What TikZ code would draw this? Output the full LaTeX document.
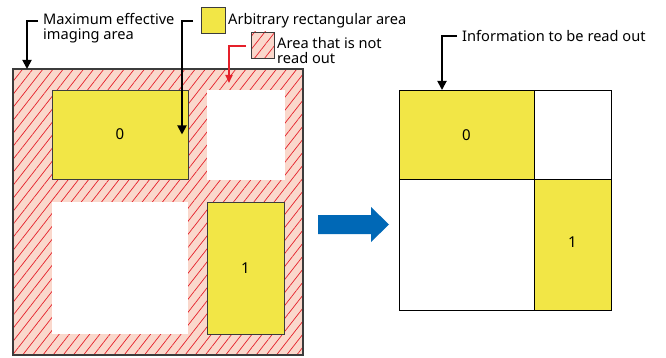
\documentclass[tikz,border=0pt]{standalone}
\usepackage{fontspec}
\setmainfont{Noto Sans}
\usepackage{tikz}
\usetikzlibrary{arrows.meta, patterns.meta, positioning}
\definecolor{edge}{HTML}{3C3C3C}
\definecolor{salmon}{HTML}{FAD8CC}
\definecolor{hatchred}{HTML}{E5202A}
\definecolor{yel}{HTML}{F2E646}
\definecolor{arrblue}{HTML}{0068B6}

\begin{document}
\begin{tikzpicture}[x=1pt, y=-1pt,
  box/.style={inner sep=0pt, outer sep=0pt, anchor=north west},
  hatch/.style={box, draw=edge, line width=1.2pt, preaction={fill=salmon},
    pattern={Lines[angle=52,distance=8pt,line width=0.7pt]}, pattern color=hatchred},
  yelbox/.style={box, draw=edge, line width=0.8pt, fill=yel},
  blank/.style={box, fill=white},
  cell/.style={box, draw=black, line width=0.9pt},
  num/.style={font=\fontsize{15}{15}\selectfont},
  lbl/.style={anchor=west, align=left, inner sep=0pt, font=\fontsize{14.6}{15}\selectfont},
  conn/.style={line width=1.8pt, -{Triangle[length=9pt,width=9pt]}},
  redconn/.style={conn, draw=hatchred, -{Triangle[length=8pt,width=7pt]}}]
\useasboundingbox (0,0) rectangle (666,358);

% full imaging area
\node[hatch, minimum width=290pt, minimum height=286pt] (outer) at (13,69) {};
\node[yelbox, minimum width=136pt, minimum height=89pt] (yel0) at (52,90) {};
\node[num] at (yel0.center) {0};
\node[blank, minimum width=78pt, minimum height=90pt] (whtr) at (207,90) {};
\node[blank, minimum width=136pt, minimum height=132pt] (whbl) at (52,202) {};
\node[yelbox, minimum width=77pt, minimum height=132pt] (yel1) at (207,202) {};
\node[num] at (yel1.center) {1};

% legend
\node[yelbox, minimum width=24pt, minimum height=26pt] (legyel) at (201,7) {};
\node[lbl] (arblbl) at (228,21) {Arbitrary rectangular area};
\node[hatch, line width=0.8pt, minimum width=23pt, minimum height=26pt] (leghatch) at (251,32) {};
\node[lbl] (notlbl) at (277,51) {Area that is not\\read out};
\node[lbl] (maxlbl) at (43,28.5) {Maximum effective\\imaging area};

\coordinate (maxstart) at (38,21);
\coordinate (arbstart) at (193,21);
\coordinate (notstart) at (246,46);
\draw[conn] (maxstart) -| ([xshift=14pt]outer.north west);
\draw[conn] (arbstart) -| ([xshift=-6pt]yel0.east);
\draw[redconn] (notstart) -| ([xshift=22pt,yshift=7pt]whtr.north west);

% blue arrow
\fill[arrblue] (318,215) -- (371,215) -- (371,207) -- (389,224.5) -- (371,242)
  -- (371,234) -- (318,234) -- cycle;

% read out result
\node[cell, fill=yel, minimum width=135pt, minimum height=89pt] (rtl) at (399,90) {};
\node[cell, fill=white, minimum width=77pt, minimum height=89pt] (rtr) at (534,90) {};
\node[cell, fill=white, minimum width=135pt, minimum height=131pt] (rbl) at (399,179) {};
\node[cell, fill=yel, minimum width=77pt, minimum height=131pt] (rbr) at (534,179) {};
\node[num] at ([yshift=-45pt]rtl.north) {0};
\node[num] at ([yshift=2.5pt]rbr.center) {1};

\node[lbl] (infolbl) at (462,36) {Information to be read out};
\coordinate (infostart) at (457,36);
\draw[conn] (infostart) -| ([xshift=43pt]rtl.north west);
\end{tikzpicture}
\end{document}
